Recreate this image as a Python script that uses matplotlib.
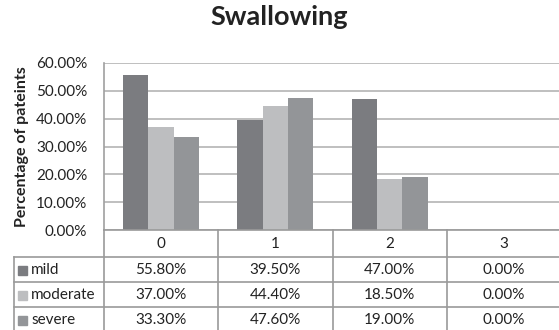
import numpy as np
import matplotlib
matplotlib.use('Agg')
import matplotlib.pyplot as plt
from matplotlib.patches import Rectangle

plt.rcParams['font.family'] = ['Lato', 'DejaVu Sans']

# data
categories = ['0', '1', '2', '3']
series = ['mild', 'moderate', 'severe']
mild = [55.8, 39.5, 47.0, 0.0]
moderate = [37.0, 44.4, 18.5, 0.0]
severe = [33.3, 47.6, 19.0, 0.0]
values = [mild, moderate, severe]
colors = ['#7b7c80', '#bdbec0', '#939598']
yticks = [0, 10, 20, 30, 40, 50, 60]

W, H = 559, 330
fig = plt.figure(figsize=(W / 100, H / 100), dpi=100)
txt_c = '#222222'
fs = 11

# plot area in pixels
px_left, px_top, px_bottom = 104, 63, 230
cat_w = 114.25
px_right = px_left + cat_w * len(categories)
ax = fig.add_axes([px_left / W, 1 - px_bottom / H,
                   (px_right - px_left) / W, (px_bottom - px_top) / H])

x = np.arange(len(categories))
bw = 0.222
for i, (vals, c) in enumerate(zip(values, colors)):
    ax.bar(x + (i - 1) * bw, vals, width=bw, color=c, zorder=3)

ax.set_xlim(-0.5, len(categories) - 0.5)
ax.set_ylim(0, 60)
ax.set_yticks(yticks)
ax.set_yticklabels(['%.2f%%' % v for v in yticks], fontsize=fs, color=txt_c)
ax.set_xticks([])
ax.tick_params(axis='y', length=0, pad=12)
ax.yaxis.grid(True, color='#b4b4b4', linewidth=1.2, zorder=0)
for s in ['top', 'right', 'bottom']:
    ax.spines[s].set_visible(False)
ax.spines['left'].set_color('#a0a0a0')
ax.spines['left'].set_linewidth(1.2)
ax.set_ylabel('Percentage of pateints', fontsize=11.5, fontweight='bold',
              color=txt_c, labelpad=5)

fig.suptitle('Swallowing', x=0.5, y=0.985, fontsize=19.5, fontweight='bold',
             color=txt_c)

# data table under the plot, drawn in pixel coordinates
tb = fig.add_axes([0, 0, 1, 1], zorder=5)
tb.set_xlim(0, W)
tb.set_ylim(H, 0)
tb.axis('off')
tb.patch.set_alpha(0)

line_c = '#9a9a9a'
tab_left = 14
row_h = 25
head_bot = 257
col_edges = [px_left + cat_w * k for k in range(len(categories) + 1)]

tb.plot([px_left, W], [px_bottom, px_bottom], color=line_c, lw=1.2)
for k in range(len(series) + 1):
    yy = head_bot + k * row_h
    tb.plot([tab_left, W], [yy, yy], color=line_c, lw=1.2)
tb.plot([tab_left, tab_left], [head_bot, H], color=line_c, lw=1.2)
for xe in col_edges:
    tb.plot([xe, xe], [px_bottom, H], color=line_c, lw=1.2)

for k, cat in enumerate(categories):
    cx = (col_edges[k] + col_edges[k + 1]) / 2
    tb.text(cx, (px_bottom + head_bot) / 2 + 1, cat, ha='center', va='center',
            fontsize=fs, color=txt_c)

for r, (name, vals, c) in enumerate(zip(series, values, colors)):
    cy = head_bot + r * row_h + row_h / 2 + 0.5
    tb.add_patch(Rectangle((18, cy - 4.5), 9, 9, color=c))
    tb.text(31, cy, name, ha='left', va='center', fontsize=fs, color=txt_c)
    for k, v in enumerate(vals):
        cx = (col_edges[k] + col_edges[k + 1]) / 2
        tb.text(cx, cy, '%.2f%%' % v, ha='center', va='center',
                fontsize=fs, color=txt_c)

fig.savefig('out.png', dpi=100)
